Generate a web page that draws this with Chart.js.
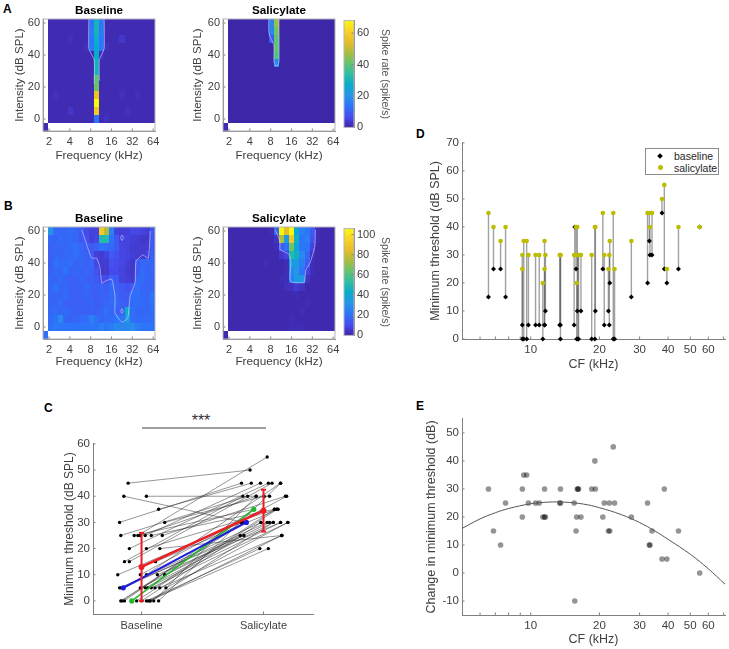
<!DOCTYPE html>
<html>
<head>
<meta charset="utf-8">
<title>Threshold shift after salicylate</title>
<script src="https://cdn.jsdelivr.net/npm/chart.js@4"></script>
<style>
  html, body { margin: 0; padding: 0; background: #fff; overflow: hidden; }
  #page { position: relative; width: 729px; height: 649px; overflow: hidden; font-family: "Liberation Sans", Arial, sans-serif; }
  canvas { position: absolute; }
  .tag { position: absolute; font-weight: bold; font-size: 12px; color: #000; line-height: 12px; }
  #legendD { position: absolute; left: 645px; top: 148px; width: 72px; height: 25px; border: 1px solid #8c8c8c; background: #fff; font-size: 10.5px; color: #262626; }
  #legendD div { position: absolute; left: 28px; line-height: 12px; }
  #legendD i { position: absolute; left: 12px; }
  #stars { position: absolute; left: 171px; width: 60px; top: 412px; text-align: center; font-size: 16px; color: #333; }
  #sigLine { position: absolute; left: 142px; top: 427px; width: 124px; height: 2px; background: #a0a0a0; }
</style>
</head>
<body>
<div id="page">
  <div class="tag" style="left:3px;top:3px">A</div>
  <div class="tag" style="left:4px;top:200px">B</div>
  <div class="tag" style="left:44px;top:402px">C</div>
  <div class="tag" style="left:416px;top:128px">D</div>
  <div class="tag" style="left:416px;top:400px">E</div>
  <div id="stars">***</div>
  <div id="sigLine"></div>
  <div id="legendD">
    <i style="top:5px;width:4px;height:4px;background:#000;transform:rotate(45deg)"></i>
    <div style="top:1px">baseline</div>
    <i style="top:16px;width:5px;height:5px;border-radius:50%;background:#bdbd00"></i>
    <div style="top:13px">salicylate</div>
  </div>
</div>
<script>
// tuning curves, rows go from 60 dB (top) to 0 dB, 21 frequency bins each
const intensities = [60, 55, 50, 45, 40, 35, 30, 25, 20, 15, 10, 5, 0];
const freqTicks = [1, 2, 3, 4, 5, 6];   // log2(kHz)
const dbTicks = [0, 20, 40, 60];

const cellsAbase = [
  [1,1,1,1,1,1,1,1,14,30,14,1,1,1,1,1,1,1,1,1,1],
  [1,1,1,1,1,1,1,1,15,30,15,1,1,1,1,1,1,1,1,1,1],
  [1,1,1,1,2,1,1,1,14,28,14,1,1,1,3,1,1,1,1,1,1],
  [1,1,1,1,1,1,1,2,14,27,14,2,1,1,1,1,1,1,1,1,1],
  [1,1,1,1,1,1,1,1,1,27,2,1,1,1,1,1,1,1,1,1,1],
  [1,1,1,1,1,1,1,1,1,29,1,1,1,1,1,1,1,1,1,1,1],
  [1,1,1,1,1,1,1,1,1,30,1,1,1,1,1,1,1,1,1,1,1],
  [1,1,1,1,1,1,1,1,1,40,1,1,1,1,1,1,1,1,1,1,1],
  [1,1,1,1,1,1,1,1,1,42,1,1,1,1,1,1,1,1,1,1,1],
  [1,2,1,1,1,1,1,1,1,56,1,1,1,1,2,1,1,2,1,1,1],
  [1,1,1,1,1,1,1,1,1,68,1,1,1,1,1,1,1,1,1,1,1],
  [1,1,1,1,3,1,1,1,1,58,1,1,1,1,1,2,1,1,1,1,1],
  [1,1,1,1,1,1,1,1,1,13,1,2,1,1,1,1,1,1,1,1,1]
];
const cellsAsal = [
  [0,0,0,0,0,0,0,0,17,46,0,0,0,0,0,0,0,0,0,0,0],
  [0,0,0,0,0,0,0,0,17,42,0,0,0,0,0,0,0,0,0,0,0],
  [0,0,0,0,0,0,0,0,9,40,0,0,0,0,0,0,0,0,0,0,0],
  [0,0,0,0,0,0,0,0,0,40,0,0,0,0,0,0,0,0,0,0,0],
  [0,0,0,0,0,0,0,0,0,38,0,0,0,0,0,0,0,0,0,0,0],
  [0,0,0,0,0,0,0,0,0,19,0,0,0,0,0,0,0,0,0,0,0],
  [0,0,0,0,0,0,0,0,0,0,0,0,0,0,0,0,0,0,0,0,0],
  [0,0,0,0,0,0,0,0,0,0,0,0,0,0,0,0,0,0,0,0,0],
  [0,0,0,0,0,0,0,0,0,0,0,0,0,0,0,0,0,0,0,0,0],
  [0,0,0,0,0,0,0,0,0,0,0,0,0,0,0,0,0,0,0,0,0],
  [0,0,0,0,0,0,0,0,0,0,0,0,0,0,0,0,0,0,0,0,0],
  [0,0,0,0,0,0,0,0,0,0,0,0,0,0,0,0,0,0,0,0,0],
  [0,0,0,0,0,0,0,0,0,0,0,0,0,0,0,0,0,0,0,0,0]
];
const cellsBbase = [
  [32,19,18,18,19,18,14,10,8,8,90,75,26,8,7,7,9,9,8,7,14],
  [18,17,19,18,19,18,14,12,7,9,50,50,21,14,8,8,7,6,5,5,14],
  [16,18,18,18,19,20,18,15,14,16,20,19,18,14,9,8,6,6,6,6,14],
  [16,18,17,18,18,20,18,16,14,7,6,8,14,12,9,8,7,6,6,8,16],
  [16,21,19,19,20,17,18,16,18,9,6,6,12,10,9,7,5,14,18,18,18],
  [16,19,18,21,17,18,17,18,16,12,5,6,10,10,8,6,5,14,19,17,18],
  [18,17,19,17,16,16,18,16,16,14,10,10,16,14,8,7,6,18,19,18,16],
  [18,21,18,18,16,16,16,19,16,16,17,15,19,16,14,12,14,20,17,17,17],
  [17,18,17,19,16,16,16,18,16,15,17,16,19,18,15,14,20,20,18,18,22],
  [17,18,19,16,16,16,16,16,18,15,16,18,19,19,16,15,19,20,19,18,20],
  [18,19,18,19,18,16,16,16,16,16,18,20,18,16,16,44,20,18,18,18,19],
  [19,21,29,18,16,18,19,19,26,20,18,19,19,22,22,34,20,19,19,19,19],
  [20,23,22,21,21,22,22,21,22,22,26,22,24,28,28,28,30,24,22,22,21]
];
const cellsBsal = [
  [1,1,1,1,1,1,1,1,2,18,105,85,105,40,25,22,15,2,1,1,1],
  [1,1,1,1,1,1,1,1,1,4,75,35,90,45,22,25,12,2,1,1,1],
  [1,1,1,1,1,1,1,1,1,2,15,20,65,40,22,22,8,1,1,1,1],
  [1,1,1,1,1,1,1,1,1,1,5,8,50,45,28,18,4,1,1,1,1],
  [1,1,1,1,1,1,1,2,1,1,1,2,35,35,25,15,2,1,1,1,1],
  [1,1,1,1,1,1,1,1,1,1,1,2,28,33,22,8,2,1,1,1,1],
  [1,1,1,1,1,1,1,1,1,1,2,2,25,35,33,4,1,1,1,1,1],
  [1,1,1,1,1,1,1,1,1,1,1,3,3,6,4,1,1,1,1,1,1],
  [1,1,1,1,1,1,1,1,1,1,1,1,1,2,1,1,1,1,1,1,1],
  [1,1,1,1,1,1,1,1,1,1,1,1,1,1,1,2,1,1,1,1,1],
  [1,1,1,1,1,1,1,1,1,1,1,1,1,1,2,1,1,1,1,1,1],
  [1,1,1,1,1,1,1,1,1,1,1,1,2,1,1,1,1,1,1,1,1],
  [1,1,1,1,1,1,1,1,1,1,1,1,2,2,2,1,1,1,1,1,1]
];
const cornerA = 1, cornerB = 20;
const vmaxA = 68, vmaxB = 106;

// response area outlines, [log2 kHz, dB]
const outlineAbase = [[2.91,62.5],[2.91,44],[3.17,37],[3.17,22]];
const outlineAbase2 = [[3.65,62.5],[3.65,44],[3.42,37],[3.42,24]];
const outlineAsal = [[3.4,62.5],[3.4,36],[3.34,33.5],[3.22,33.5],[3.155,36],[3.155,46],[2.95,52],[2.9,56],[2.91,62.5]];
const outlineBbase = [[2.57,60.8],[2.81,51.4],[3.05,43],[3.29,43],[3.45,37],[3.53,27.5],[3.69,28.5],[4.01,30],[4.17,19],[4.17,8.8],[4.5,3],[4.78,5.6],[4.89,19],[5.13,27.5],[5.18,41],[5.5,45],[5.77,43],[5.86,60]];
const outlineBspot1 = [[4.5,57.5],[4.58,55.8],[4.5,54],[4.44,55.8],[4.5,57.5]];
const outlineBspot2 = [[4.5,11.5],[4.57,10],[4.5,8.5],[4.44,10],[4.5,11.5]];
const outlineBsal = [[3.21,60.8],[3.45,53.6],[3.45,48.4],[3.88,45.6],[3.97,41],[3.93,29.5],[4.05,27.9],[4.61,27.9],[4.69,35.8],[4.89,40],[5.12,50.4],[5.15,60.8]];

// colorbars
const barTicksA = [0, 20, 40, 60];
const barTicksB = [0, 20, 40, 60, 80, 100];

// units, one entry per neuron: CF, threshold before and after, and the change
const cf = [6.53,6.87,7.38,7.76,9.19,9.19,9.32,9.60,9.77,10.5,10.9,11.3,11.5,11.5,11.6,13.4,13.5,13.5,15.5,15.6,15.8,15.9,16.0,16.1,16.2,16.6,18.5,19.1,19.2,20.7,21.0,21.9,22.1,22.2,23.0,23.3,27.6,32.5,33.1,33.3,34.0,37.6,38.5,39.5,44.4,55.0];
const baseThr = [15,25,25,15,5,0,0,0,5,5,5,0,5,5,10,5,5,0,5,40,25,0,10,0,0,10,0,0,10,25,5,10,5,20,0,0,15,20,35,30,30,45,25,20,25,40];
const salThr = [45,40,35,40,25,30,35,35,30,30,30,20,35,25,30,30,30,30,30,30,40,20,40,30,30,30,30,40,40,45,30,25,30,35,45,25,35,45,45,40,45,50,55,25,40,40];
const changeThr = [30,15,10,25,20,30,35,35,25,25,25,20,30,20,20,25,25,30,25,-10,15,20,30,30,30,20,30,40,30,20,25,15,25,15,45,25,20,25,10,10,15,5,30,5,15,0];

// quadratic fit in panel E
const fitX = [5,6,7,8,10,12,14,17,20,25,30,35,40,50,60,71];
const fitY = [15.9,19.3,21.5,23,24.7,25.3,25.3,24.6,23.3,20.8,18,15,12,6.7,1.5,-4];

const cfTicks = [6,7,8,9,10,20,30,40,50,60,70];
const cfLabels = [10,20,30,40,50,60];
const dTicks = [0,10,20,30,40,50,60,70];
const eTicks = [-10,0,10,20,30,40,50];

// panel C, jittered positions of the pairs
const cBaseX = [.89,.855,1.04,1.14,.82,1.19,.83,.94,.97,.99,1.03,1.08,1.17,.90,1.04,1.15,.86,.90,1.115,.805,.99,1.04,1.13,1.19,.82,.83,.85,.99,1.03,1.05,1.08,1.11,1.15,1.20,.83,.84,.86,.96,1.0,1.04,1.055,1.07,1.10,1.14,1.07];
const cBaseY = [45,40,40,35,30,30,25,25,25,25,25,25,25,20,20,20,15,15,15,10,10,10,10,10,5,5,5,5,5,5,5,5,5,5,0,0,0,0,0,0,0,0,0,0,0];
const cSalX = [1.89,1.84,2.05,1.90,1.82,2.005,1.87,1.92,2.03,1.94,1.975,2.09,2.18,2.04,2.11,2.15,1.83,2.07,2.12,1.82,2.19,2.14,2.14,1.81,1.84,1.98,2.03,2.05,2.08,2.14,2.20,2.09,2.15,2.20,1.82,1.84,1.92,2.11,1.98,1.97,2.04,2.08,1.94,2.14,2.15];
const cSalY = [50,30,40,45,45,40,40,35,55,40,45,35,40,45,35,25,40,45,35,30,40,45,30,25,25,30,30,30,30,30,30,35,25,30,30,30,35,35,30,20,20,30,40,45,25];
const cTicks = [0,10,20,30,40,50,60];
const cCats = ['Baseline', 'Salicylate'];
const blueX = [.85, 1.86], blueY = [5, 30];
const greenX = [.92, 1.92], greenY = [0, 35];
const meanX = [1, 2], meanY = [13, 34.5], sdY = [13, 8];

const parulaStops = [[62,38,168],[71,76,240],[45,115,250],[38,148,232],[6,172,205],[46,190,160],[100,196,110],[170,190,60],[230,190,40],[250,210,40],[249,251,14]];
function parula(t) {
  t = Math.max(0, Math.min(1, t)) * 10;
  const i = Math.min(9, Math.floor(t)), f = t - i;
  const a = parulaStops[i], b = parulaStops[i + 1];
  return `rgb(${a.map((c, k) => Math.round(c + (b[k] - c) * f)).join(',')})`;
}

Chart.defaults.font.family = '"Liberation Sans", Arial, sans-serif';
const textCol = '#404040', axisCol = '#808080';

// heat cells and box/ticks are drawn off the chart's own scales
const cellW = 0.245, cellH = 5;
const cellPlugin = {
  id: 'cellPlugin',
  beforeDatasetsDraw(chart) {
    const ctx = chart.ctx, xs = chart.scales.x, ys = chart.scales.y, area = chart.chartArea;
    ctx.save();
    ctx.beginPath();
    ctx.rect(area.left, area.top, area.right - area.left, area.bottom - area.top);
    ctx.clip();
    chart.data.datasets.forEach(ds => {
      if (!ds.cells) return;
      ds.data.forEach(c => {
        const x0 = Math.round(xs.getPixelForValue(c.x - cellW / 2));
        const x1 = Math.round(xs.getPixelForValue(c.x + cellW / 2));
        const y0 = Math.round(ys.getPixelForValue(c.y + cellH / 2));
        const y1 = Math.round(ys.getPixelForValue(c.y - cellH / 2));
        ctx.fillStyle = parula(c.v / ds.vmax);
        ctx.fillRect(x0, y0, x1 - x0, y1 - y0);
      });
    });
    ctx.restore();
  }
};
const axisMarks = {
  id: 'axisMarks',
  afterDraw(chart, args, opts) {
    const ctx = chart.ctx, area = chart.chartArea, len = 2.5;
    ctx.save();
    ctx.strokeStyle = axisCol;
    ctx.lineWidth = 1;
    Object.values(chart.scales).forEach(s => {
      if (!s.options.display) return;
      (s.ticks || []).forEach(t => {
        const p = s.getPixelForValue(t.value);
        ctx.beginPath();
        if (s.isHorizontal()) {
          ctx.moveTo(p, area.bottom); ctx.lineTo(p, area.bottom - len);
        } else if (s.position === 'right') {
          ctx.moveTo(area.right, p); ctx.lineTo(area.right - len, p);
        } else {
          ctx.moveTo(area.left, p); ctx.lineTo(area.left + len, p);
        }
        ctx.stroke();
      });
    });
    if (opts.box) {
      ctx.strokeStyle = '#b4b4bc';
      ctx.strokeRect(area.left, area.top, area.right - area.left, area.bottom - area.top);
    }
    ctx.restore();
  }
};

function axis(o) {
  return {
    type: o.type || 'linear',
    position: o.position,
    min: o.min,
    max: o.max,
    grid: { display: false, drawTicks: false },
    border: { color: axisCol },
    title: { display: !!o.title, text: o.title, color: o.titleColor || textCol, font: { size: o.titleSize || 12.5 }, padding: 0 },
    ticks: { color: textCol, font: { size: o.tickSize || 11.5 }, padding: o.pad, autoSkip: false, maxRotation: 0, callback: o.fmt || (v => v) },
    afterBuildTicks: a => { a.ticks = o.ticks.map(v => ({ value: v })); },
    afterFit: s => { if (o.width) s.width = o.width; if (o.height) s.height = o.height; }
  };
}

// place a canvas so that the plot area lands on the given page rectangle
function panel(r, cfg) {
  const titleH = cfg.title ? 16 : 0;
  const c = document.createElement('canvas');
  const right = r.rightPad === undefined ? 12 : r.rightPad;
  c.width = 2 + r.yW + (r.r - r.l) + right + (r.extraW || 0);
  c.height = 8 + titleH + (r.b - r.t) + r.xH;
  c.style.left = (r.l - r.yW - 2) + 'px';
  c.style.top = (r.t - 8 - titleH) + 'px';
  document.getElementById('page').appendChild(c);
  return new Chart(c, {
    type: cfg.type || 'scatter',
    data: { labels: cfg.labels, datasets: cfg.datasets },
    plugins: [cellPlugin, axisMarks],
    options: {
      responsive: false,
      animation: false,
      events: [],
      layout: { padding: { left: 2, top: 8, right: right, bottom: r.bottomPad || 0 } },
      scales: cfg.scales,
      plugins: {
        legend: { display: false },
        tooltip: { enabled: false },
        axisMarks: { box: !!cfg.box },
        title: cfg.title ? { display: true, fullSize: false, text: cfg.title, color: '#000', font: { size: 11.7, weight: 'bold', lineHeight: 1.2 }, padding: { top: 1, bottom: 0.96 } } : { display: false }
      }
    }
  });
}

function heatPanel(r, title, matrix, corner, vmax, outlines) {
  const cells = [];
  matrix.forEach((row, j) => row.forEach((v, i) => {
    cells.push({ x: 0.95 + cellW * (i + 0.5), y: intensities[j], v: v });
  }));
  cells.push({ x: 0.95 - cellW / 2, y: -5, v: corner });
  const lines = outlines.map(pts => ({
    data: pts.map(p => ({ x: p[0], y: p[1] })),
    showLine: true, pointRadius: 0, borderWidth: 1, borderColor: 'rgba(222,222,250,0.55)', tension: 0.15
  }));
  panel(r, {
    title: title,
    box: true,
    datasets: lines.concat([{ data: cells, cells: true, vmax: vmax, pointRadius: 0, showLine: false }]),
    scales: {
      x: axis({ min: 0.71, max: 6.09, ticks: freqTicks, title: 'Frequency (kHz)', titleSize: 11.8, tickSize: 11, pad: 4, fmt: v => Math.pow(2, v), height: r.xH }),
      y: axis({ min: -7.5, max: 62.5, ticks: dbTicks, title: 'Intensity (dB SPL)', titleSize: 11.6, tickSize: 11, pad: 3, width: r.yW })
    }
  });
}

function colorBar(r, vmax, ticks) {
  panel({ l: r.l, t: r.t, r: r.r, b: r.b, yW: 0, xH: 8, rightPad: 0, extraW: r.labelW, bottomPad: 8 }, {
    type: 'bar',
    box: true,
    labels: [''],
    datasets: [{
      data: [vmax],
      barPercentage: 1,
      categoryPercentage: 1,
      backgroundColor(ctx) {
        const a = ctx.chart.chartArea;
        if (!a) return '#000';
        const g = ctx.chart.ctx.createLinearGradient(0, a.bottom, 0, a.top);
        parulaStops.forEach((s, i) => g.addColorStop(i / 10, `rgb(${s.join(',')})`));
        return g;
      }
    }],
    scales: {
      x: { display: false },
      y: axis({ position: 'right', min: 0, max: vmax, ticks: ticks, title: 'Spike rate (spike/s)', titleSize: 10.5, titleColor: '#555', tickSize: 11, pad: 3, width: r.labelW })
    }
  });
}

heatPanel({ l: 43, t: 19, r: 155, b: 131, yW: 30, xH: 32 }, 'Baseline', cellsAbase, cornerA, vmaxA, [outlineAbase, outlineAbase2]);
heatPanel({ l: 223, t: 19, r: 335, b: 131, yW: 32, xH: 32 }, 'Salicylate', cellsAsal, cornerA, vmaxA, [outlineAsal]);
colorBar({ l: 344, t: 19, r: 354, b: 129, labelW: 37 }, vmaxA, barTicksA);

heatPanel({ l: 43, t: 227, r: 155, b: 339, yW: 30, xH: 30 }, 'Baseline', cellsBbase, cornerB, vmaxB, [outlineBbase, outlineBspot1, outlineBspot2]);
heatPanel({ l: 223, t: 227, r: 335, b: 339, yW: 32, xH: 30 }, 'Salicylate', cellsBsal, cornerA, vmaxB, [outlineBsal]);
colorBar({ l: 344, t: 227, r: 354, b: 337, labelW: 37 }, vmaxB, barTicksB);

// panel C
const cPairs = cBaseX.map((x, i) => ({
  data: [{ x: x, y: cBaseY[i] }, { x: cSalX[i], y: cSalY[i] }],
  showLine: true, borderColor: 'rgba(40,40,40,0.7)', borderWidth: 0.7,
  pointRadius: 1.7, pointBackgroundColor: '#000', pointBorderWidth: 0, clip: false
}));
const redBar = i => ({
  data: [{ x: meanX[i], y: meanY[i] - sdY[i] }, { x: meanX[i], y: meanY[i] + sdY[i] }],
  showLine: true, borderColor: '#ee1c25', borderWidth: 2, pointStyle: 'line', pointRadius: 2.5, pointBorderColor: '#ee1c25', pointBorderWidth: 2, clip: false
});
panel({ l: 93, t: 442, r: 313, b: 614, yW: 31, xH: 20 }, {
  datasets: [
    { data: meanX.map((x, i) => ({ x: x, y: meanY[i] })), showLine: true, borderColor: '#ee1c25', borderWidth: 2.6, pointRadius: 3, pointBackgroundColor: '#ee1c25', pointBorderWidth: 0, clip: false },
    redBar(0), redBar(1),
    { data: blueX.map((x, i) => ({ x: x, y: blueY[i] })), showLine: true, borderColor: '#1c1ce0', borderWidth: 2, pointRadius: 2.6, pointBackgroundColor: '#1c1ce0', pointBorderWidth: 0, clip: false },
    { data: greenX.map((x, i) => ({ x: x, y: greenY[i] })), showLine: true, borderColor: '#22b82c', borderWidth: 1.6, pointRadius: 2.6, pointBackgroundColor: '#22b82c', pointBorderWidth: 0, clip: false }
  ].concat(cPairs),
  scales: {
    x: axis({ min: 0.602, max: 2.406, ticks: [1, 2], tickSize: 11, pad: 5, fmt: v => cCats[v - 1], height: 20 }),
    y: axis({ min: -5, max: 60, ticks: cTicks, title: 'Minimum threshold (dB SPL)', titleSize: 12, pad: 3, width: 31 })
  }
});

// panel D
const dLines = cf.map((x, i) => ({
  data: [{ x: x, y: baseThr[i] }, { x: x, y: salThr[i] }],
  showLine: true, borderColor: 'rgba(70,70,70,0.5)', borderWidth: 1.4, pointRadius: 0, clip: false
}));
panel({ l: 462, t: 141, r: 726, b: 339, yW: 34, xH: 33, rightPad: 3 }, {
  datasets: [
    { data: cf.map((x, i) => ({ x: x, y: salThr[i] })), pointRadius: 2.3, pointBackgroundColor: '#bdbd00', pointBorderWidth: 0, clip: false },
    { data: cf.map((x, i) => ({ x: x, y: baseThr[i] })), pointStyle: 'rectRot', pointRadius: 2.5, pointBackgroundColor: '#000', pointBorderWidth: 0, clip: false }
  ].concat(dLines),
  scales: {
    x: axis({ type: 'logarithmic', min: 5, max: 71, ticks: cfTicks, title: 'CF (kHz)', pad: 4, height: 33, fmt: v => cfLabels.includes(v) ? String(v) : '' }),
    y: axis({ min: 0, max: 70, ticks: dTicks, title: 'Minimum threshold (dB SPL)', pad: 3, width: 34 })
  }
});

// panel E
panel({ l: 462, t: 417, r: 726, b: 615, yW: 38, xH: 32, rightPad: 3 }, {
  datasets: [
    { data: fitX.map((x, i) => ({ x: x, y: fitY[i] })), showLine: true, borderColor: '#555', borderWidth: 1, pointRadius: 0, tension: 0.4 },
    { data: cf.map((x, i) => ({ x: x, y: changeThr[i] })), pointRadius: 2.8, pointBackgroundColor: 'rgba(0,0,0,0.42)', pointBorderWidth: 0, clip: false }
  ],
  scales: {
    x: axis({ type: 'logarithmic', min: 5, max: 71, ticks: cfTicks, title: 'CF (kHz)', pad: 4, height: 32, fmt: v => cfLabels.includes(v) ? String(v) : '' }),
    y: axis({ min: -15, max: 55, ticks: eTicks, title: 'Change in minimum threshold (dB)', pad: 3, width: 38 })
  }
});
</script>
</body>
</html>
